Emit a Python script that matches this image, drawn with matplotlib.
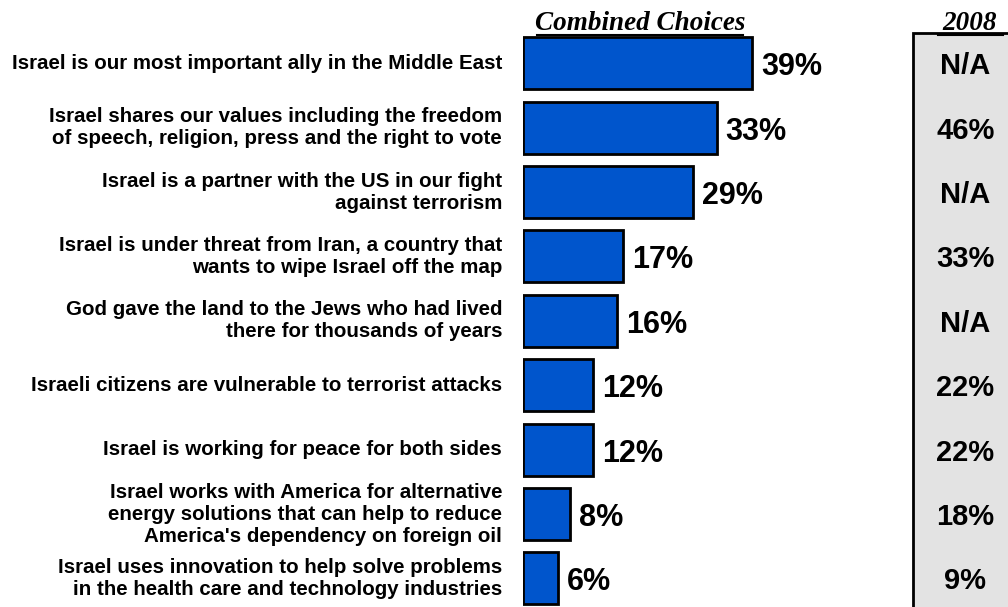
import matplotlib
matplotlib.use("Agg")
import matplotlib.pyplot as plt
from matplotlib.patches import Rectangle

labels = [
    "Israel is our most important ally in the Middle East",
    "Israel shares our values including the freedom\nof speech, religion, press and the right to vote",
    "Israel is a partner with the US in our fight\nagainst terrorism",
    "Israel is under threat from Iran, a country that\nwants to wipe Israel off the map",
    "God gave the land to the Jews who had lived\nthere for thousands of years",
    "Israeli citizens are vulnerable to terrorist attacks",
    "Israel is working for peace for both sides",
    "Israel works with America for alternative\nenergy solutions that can help to reduce\nAmerica's dependency on foreign oil",
    "Israel uses innovation to help solve problems\nin the health care and technology industries",
]
combined = [39, 33, 29, 17, 16, 12, 12, 8, 6]
values_2008 = ["N/A", "46%", "N/A", "33%", "N/A", "22%", "22%", "18%", "9%"]

W, H = 1008, 607
fig = plt.figure(figsize=(W / 100, H / 100), dpi=100)
fig.patch.set_facecolor("white")

pitch = 64.4
top_px = 31
ax_left, ax_right = 523, 913
ax = fig.add_axes([ax_left / W, 0, (ax_right - ax_left) / W, 1 - top_px / H])
ax.set_xlim(0, (ax_right - ax_left) / 5.87)
n_bot = (H - top_px) / pitch - 0.5
ax.set_ylim(n_bot, -0.5)
ax.axis("off")

ys = list(range(len(combined)))
ax.barh(ys, combined, height=0.81, color="#0055CC", edgecolor="black", linewidth=2, left=0)
for y, v in zip(ys, combined):
    ax.annotate(f"{v}%", xy=(v, y), xytext=(9, -4), textcoords="offset pixels",
                ha="left", va="center", fontsize=22, fontweight="bold",
                family="Liberation Sans")
for y, lab in zip(ys, labels):
    ax.annotate(lab, xy=(0, y), xytext=(-21, 0), textcoords="offset pixels",
                ha="right", va="center", fontsize=14.8, fontweight="bold",
                family="Liberation Sans", linespacing=1.2, multialignment="right",
                annotation_clip=False)

# gray box for 2008
ax2 = fig.add_axes([913 / W, 0, (W - 913) / W, 1 - top_px / H])
ax2.set_xlim(0, 1)
ax2.set_ylim(n_bot, -0.5)
ax2.axis("off")
ax2.add_patch(Rectangle((0, -0.47), 2, n_bot + 1, facecolor="#E3E3E3",
                        edgecolor="black", linewidth=2, clip_on=False))
for y, v in zip(ys, values_2008):
    ax2.annotate(v, xy=(0.55, y), xytext=(0, -3), textcoords="offset pixels",
                 ha="center", va="center", fontsize=21, fontweight="bold",
                 family="Liberation Sans")

fig.text(640 / W, 1 - 24 / H, "Combined Choices", ha="center", va="center",
         fontsize=19.5, style="italic", fontweight="bold", family="Liberation Serif")
fig.add_artist(plt.Line2D([537 / W, 743 / W], [1 - 35 / H, 1 - 35 / H], color="black", lw=1.5))
fig.text(970 / W, 1 - 24 / H, "2008", ha="center", va="center",
         fontsize=19.5, style="italic", fontweight="bold", family="Liberation Serif")
fig.add_artist(plt.Line2D([938 / W, 1003 / W], [1 - 35 / H, 1 - 35 / H], color="black", lw=1.5))

fig.savefig("out.png", dpi=100)
